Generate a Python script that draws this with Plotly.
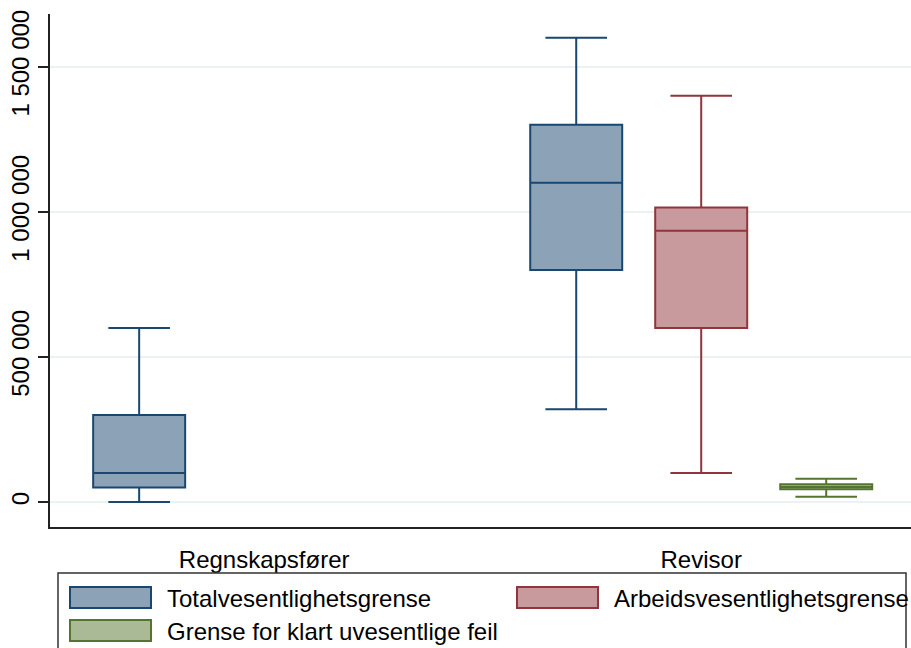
import plotly.graph_objects as go

# Category labels and series names
categories = ["Regnskapsfører", "Revisor"]
series_names = [
    "Totalvesentlighetsgrense",
    "Arbeidsvesentlighetsgrense",
    "Grense for klart uvesentlige feil",
]

# Box statistics per series (one entry per category the series covers)
total_x = ["Regnskapsfører", "Revisor"]
total_low = [0, 320000]
total_q1 = [50000, 800000]
total_med = [100000, 1100000]
total_q3 = [300000, 1300000]
total_high = [600000, 1600000]

arbeid_x = ["Revisor"]
arbeid_low = [100000]
arbeid_q1 = [600000]
arbeid_med = [935000]
arbeid_q3 = [1015000]
arbeid_high = [1400000]

feil_x = ["Revisor"]
feil_low = [18000]
feil_q1 = [44000]
feil_med = [52000]
feil_q3 = [61000]
feil_high = [80000]

# Y axis ticks
y_tickvals = [0, 500000, 1000000, 1500000]
y_ticktext = ["0", "500 000", "1 000 000", "1 500 000"]

line_colors = ["#1a476f", "#90353b", "#55752f"]
fill_colors = ["#8ca3b7", "#c89a9d", "#aaba97"]

FONT = "Liberation Sans, Arial, sans-serif"
FS = 24
W, H = 911, 648
M_L, M_R, M_T, M_B = 50, 0, 14, 121

fig = go.Figure()

stats = [
    (total_x, total_low, total_q1, total_med, total_q3, total_high),
    (arbeid_x, arbeid_low, arbeid_q1, arbeid_med, arbeid_q3, arbeid_high),
    (feil_x, feil_low, feil_q1, feil_med, feil_q3, feil_high),
]
for i, (x, lo, q1, med, q3, hi) in enumerate(stats):
    fig.add_trace(go.Box(
        name=series_names[i],
        x=x, lowerfence=lo, q1=q1, median=med, q3=q3, upperfence=hi,
        line=dict(color=line_colors[i], width=2),
        fillcolor=fill_colors[i],
        whiskerwidth=0.67,
        boxpoints=False,
        hoverinfo="skip",
        showlegend=False,
    ))


def paper_x(px):
    return (px - M_L) / (W - M_L - M_R)


def paper_y(py):
    return (H - M_B - py) / (H - M_T - M_B)


# Legend drawn as swatches + labels below the plot
shapes = [dict(type="rect", xref="paper", yref="paper",
               x0=paper_x(58), x1=paper_x(906), y0=paper_y(573), y1=paper_y(660),
               line=dict(color="#333333", width=1.5), fillcolor="white", layer="above")]
annotations = []
legend_slots = [(70, 587), (517, 587), (70, 620)]
for i, (sx, sy) in enumerate(legend_slots):
    shapes.append(dict(type="rect", xref="paper", yref="paper",
                       x0=paper_x(sx), x1=paper_x(sx + 81),
                       y0=paper_y(sy + 21), y1=paper_y(sy),
                       line=dict(color=line_colors[i], width=2),
                       fillcolor=fill_colors[i], layer="above"))
    annotations.append(dict(xref="paper", yref="paper",
                            x=paper_x(sx + 95), y=paper_y(sy + 11),
                            text=series_names[i], showarrow=False,
                            xanchor="left", yanchor="middle",
                            font=dict(family=FONT, size=FS, color="black")))

fig.update_layout(
    width=W, height=H,
    margin=dict(l=M_L, r=M_R, t=M_T, b=M_B),
    paper_bgcolor="white", plot_bgcolor="white",
    boxmode="group", boxgap=0.142, boxgroupgap=0.264,
    font=dict(family=FONT, size=FS, color="black"),
    shapes=shapes, annotations=annotations,
    showlegend=False,
)
fig.update_xaxes(
    type="category", categoryorder="array", categoryarray=categories,
    range=[-0.49, 1.48], automargin=False,
    showline=True, linecolor="#222222", linewidth=1.5,
    showgrid=False, zeroline=False,
    ticks="outside", ticklen=10, tickcolor="rgba(0,0,0,0)",
    tickfont=dict(family=FONT, size=FS, color="black"),
)
fig.update_yaxes(
    range=[-86000, 1682000], automargin=False,
    tickvals=y_tickvals, ticktext=y_ticktext, tickangle=-90,
    showline=True, linecolor="#222222", linewidth=1.5,
    showgrid=True, gridcolor="#eaf2f3", gridwidth=1.5, zeroline=False,
    ticks="outside", ticklen=10, tickcolor="#222222", tickwidth=1.5,
    ticklabelstandoff=0,
    tickfont=dict(family=FONT, size=FS, color="black"),
)

fig.write_html("out.html")
